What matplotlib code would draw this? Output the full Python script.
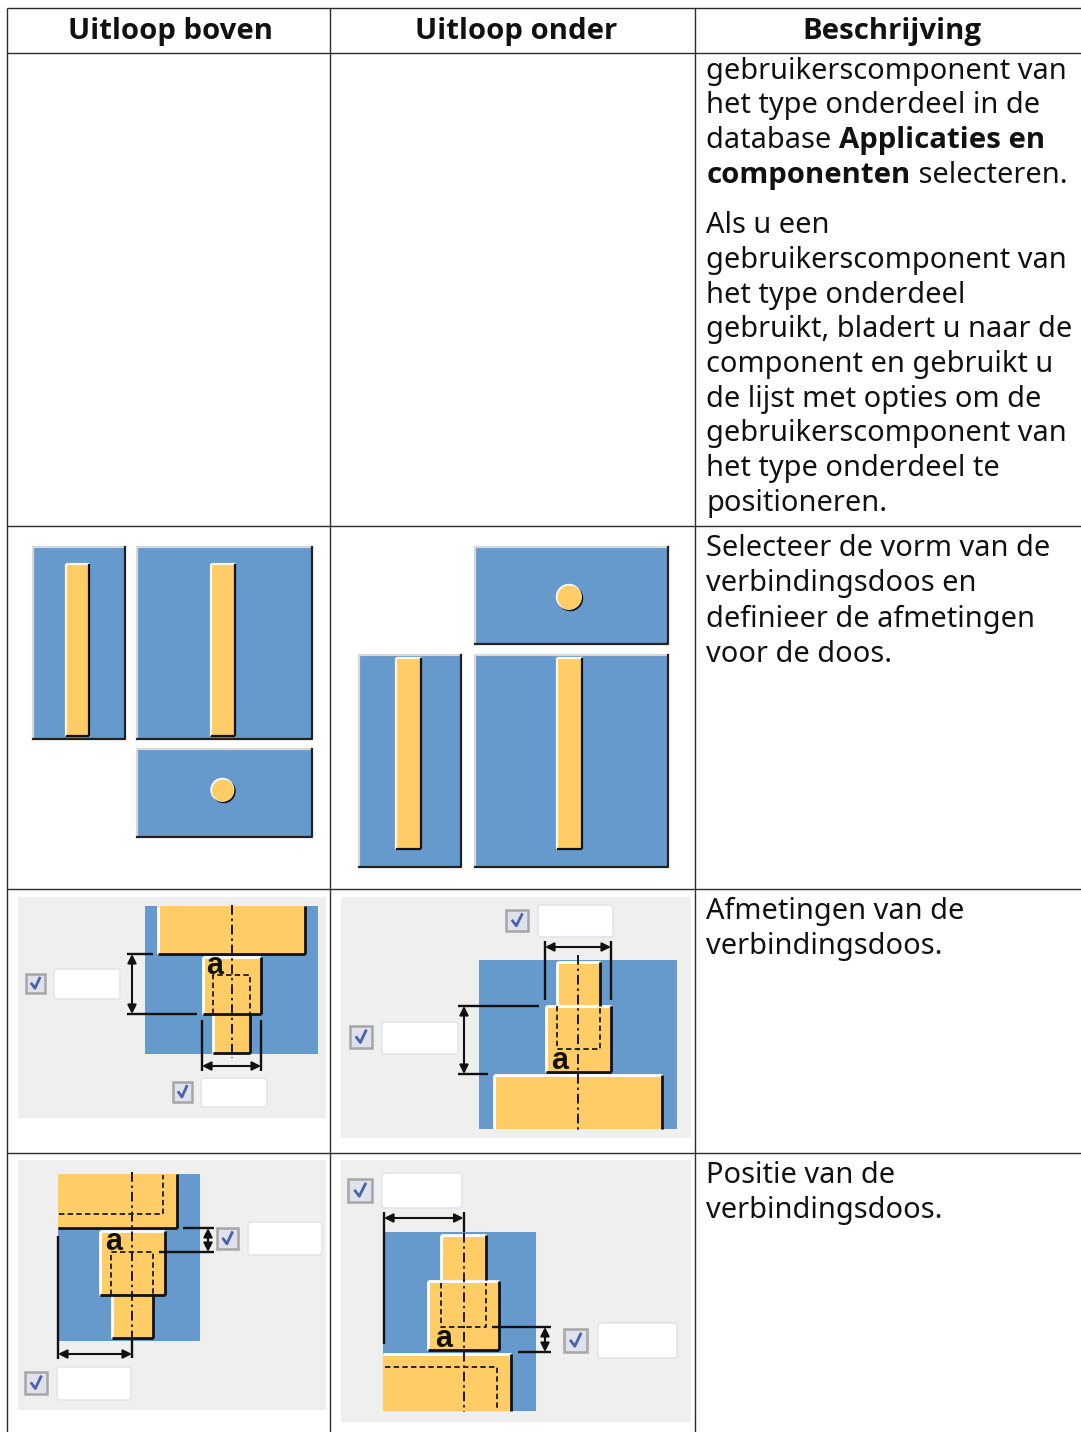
import matplotlib
matplotlib.use("Agg")
import matplotlib.pyplot as plt
from matplotlib.patches import Rectangle, Circle, FancyBboxPatch

# ---------------------table data--------------------------
headers = ["Uitloop boven", "Uitloop onder", "Beschrijving"]
header_x = [171, 516, 892]

# one entry per line: (y, [(text, bold), ...])
desc_lines = [
    (68, [("gebruikerscomponent van", False)]),
    (102.5, [("het type onderdeel in de", False)]),
    (137, [("database ", False), ("Applicaties en", True)]),
    (172, [("componenten", True), (" selecteren.", False)]),
    (222, [("Als u een", False)]),
    (257, [("gebruikerscomponent van", False)]),
    (292, [("het type onderdeel", False)]),
    (326, [("gebruikt, bladert u naar de", False)]),
    (361, [("component en gebruikt u", False)]),
    (396, [("de lijst met opties om de", False)]),
    (430, [("gebruikerscomponent van", False)]),
    (465, [("het type onderdeel te", False)]),
    (500, [("positioneren.", False)]),
    (545.5, [("Selecteer de vorm van de", False)]),
    (580.5, [("verbindingsdoos en", False)]),
    (615.5, [("definieer de afmetingen", False)]),
    (650.5, [("voor de doos.", False)]),
    (908, [("Afmetingen van de", False)]),
    (943, [("verbindingsdoos.", False)]),
    (1172, [("Positie van de", False)]),
    (1207, [("verbindingsdoos.", False)]),
]

col_lines = [7, 330, 695]
row_lines = [8, 53, 525.5, 888.5, 1152.5]

# shape thumbnails of row 2: x0, y0, x1, y1
plates = [(33, 547, 125, 739), (137, 547, 312, 739), (137, 749, 312, 837),
          (475, 547, 668, 644), (359, 655, 461, 867), (475, 655, 668, 867)]
plate_bars = [(66, 564, 89, 736), (211, 564, 235, 736),
              (396, 658, 421, 849), (557, 658, 582, 849)]
plate_holes = [(223, 790.5, 12), (569.5, 597.5, 13)]

# dialogs of rows 3 and 4
panels = [(18, 897, 326, 1118), (341, 897, 691, 1138),
          (18, 1160, 326, 1410), (341, 1160, 691, 1422)]
blues = [(145, 906, 318, 1054), (479, 960, 677, 1129),
         (58, 1174, 200, 1341), (383, 1232, 536, 1411)]
# x0, y0, x1, y1, white edges, black edges
steps = [
    (158, 906, 305, 954, "l", "rb"), (203, 957, 261, 1014, "tl", "rb"), (213, 1014, 250, 1053, "l", "rb"),
    (557, 962, 600, 1006, "tl", "r"), (546, 1006, 611, 1072, "tl", "rb"), (494, 1075, 662, 1129, "tl", "r"),
    (58, 1174, 177, 1228, "", "rb"), (100, 1231, 165, 1295, "tl", "rb"), (112, 1295, 153, 1338, "l", "rb"),
    (441, 1235, 486, 1280, "tl", "r"), (428, 1281, 499, 1350, "tl", "rb"), (383, 1354, 511, 1411, "t", "r"),
]
centers = [(232, 905, 1058), (578, 955, 1130), (132, 1172, 1358), (463.5, 1213, 1412)]
dashed = [
    [(213, 1014), (213, 975), (250, 975), (250, 1014)],
    [(557, 1006), (557, 1049), (600, 1049), (600, 1006)],
    [(59, 1214), (163, 1214), (163, 1175)],
    [(111, 1295), (111, 1252), (153, 1252), (153, 1295)],
    [(441, 1283), (441, 1327), (486, 1327), (486, 1283)],
    [(385, 1367), (497, 1367), (497, 1410)],
]
letter_a = [(215, 966), (559.5, 1061), (114, 1242), (444, 1339)]
# extension lines x0, y0, x1, y1
ext_lines = [
    (127, 954, 153, 954), (127, 1014, 197, 1014), (202, 1020, 202, 1071), (261, 1020, 261, 1071),
    (545, 941, 545, 1000), (611, 941, 611, 1000), (458, 1006, 539, 1006), (458, 1074, 488, 1074),
    (58, 1236, 58, 1359), (132, 1340, 132, 1358), (183, 1228, 214, 1228), (159, 1252, 214, 1252),
    (384, 1212, 384, 1344), (463.5, 1212, 463.5, 1232), (492, 1327, 551, 1327), (518, 1352, 551, 1352),
]
dim_arrows = [
    (132, 954, 132, 1014), (202, 1066, 261, 1066),
    (545, 947, 611, 947), (464, 1006, 464, 1074),
    (58, 1354, 132, 1354), (208, 1228, 208, 1252),
    (384, 1218, 463.5, 1218), (545, 1327, 545, 1352),
]
checks = [(26, 974, 45, 993), (173, 1082, 192, 1102), (506, 910, 528, 931), (350, 1026, 372, 1048),
          (217, 1228, 238, 1249), (25, 1372, 47, 1394), (348, 1179, 372, 1202), (564, 1329, 587, 1352)]
inputs = [(54, 969, 120, 999), (201, 1078, 267, 1107), (538, 905, 613, 937), (382, 1022, 458, 1054),
          (248, 1222, 322, 1255), (57, 1367, 131, 1400), (382, 1173, 462, 1208), (598, 1323, 677, 1358)]

BLUE = "#6699cc"
ORANGE = "#ffcc66"
GRAY = "#efefef"
LINE = "#2b2b2b"
FONT = "Noto Sans"
BOLD_FONT = "Open Sans"
FS = 20.85
FS_BOLD = 21.2


# ---------------------functions--------------------------
def box(x0, y0, x1, y1, color, z=1):
    ax.add_patch(Rectangle((x0, y0), x1 - x0, y1 - y0, fc=color, ec="none", zorder=z))


def bevel(x0, y0, x1, y1, light, dark, z=3, lw=2.0, top="white"):
    box(x0, y0, x1, y1, ORANGE, z)
    if "t" in light:
        ax.plot([x0, x1], [y0, y0], color=top, lw=lw, zorder=z + 0.1, solid_capstyle="butt")
    if "l" in light:
        ax.plot([x0, x0], [y0, y1], color=top, lw=lw, zorder=z + 0.1, solid_capstyle="butt")
    if "b" in dark:
        ax.plot([x0, x1], [y1, y1], color="#111111", lw=lw, zorder=z + 0.2, solid_capstyle="butt")
    if "r" in dark:
        ax.plot([x1, x1], [y0, y1], color="#111111", lw=lw, zorder=z + 0.2, solid_capstyle="butt")


def runs(x, y, parts):
    for txt, bold in parts:
        t = ax.text(x, y, txt, fontsize=FS_BOLD if bold else FS, family=BOLD_FONT if bold else FONT,
                    va="center_baseline", ha="left",
                    fontweight="bold" if bold else "normal", color="#111111", zorder=6)
        x += t.get_window_extent(renderer).width


# ---------------------draw--------------------------
fig = plt.figure(figsize=(10.81, 14.32), dpi=100)
ax = fig.add_axes([0, 0, 1, 1])
ax.set_xlim(0, 1081)
ax.set_ylim(1432, 0)
ax.axis("off")
renderer = fig.canvas.get_renderer()

# row 2 thumbnails
for x0, y0, x1, y1 in plates:
    box(x0, y0, x1, y1, BLUE, 1)
    ax.plot([x0, x0, x1], [y1, y0, y0], color="#d8d8d8", lw=1.6, zorder=2)
    ax.plot([x0, x1, x1], [y1, y1, y0], color="#222222", lw=1.6, zorder=2)
for x0, y0, x1, y1 in plate_bars:
    bevel(x0, y0, x1, y1, "tl", "rb", lw=1.6, top="#fff6e6")
for cx, cy, r in plate_holes:
    ax.add_patch(Circle((cx + 0.7, cy + 0.7), r, fc="#111111", ec="none", zorder=3))
    ax.add_patch(Circle((cx - 0.7, cy - 0.7), r, fc="white", ec="none", zorder=3.1))
    ax.add_patch(Circle((cx, cy), r - 1, fc=ORANGE, ec="none", zorder=3.2))

# rows 3 and 4 dialogs
for x0, y0, x1, y1 in panels:
    box(x0, y0, x1, y1, GRAY, 0.5)
for x0, y0, x1, y1 in blues:
    box(x0, y0, x1, y1, BLUE, 1)
for x0, y0, x1, y1, light, dark in steps:
    bevel(x0, y0, x1, y1, light, dark)
for x, y0, y1 in centers:
    ax.plot([x, x], [y0, y1], color="#1a1a1a", lw=1.4, ls=(0, (5, 2, 1.2, 2)), zorder=4)
for pts in dashed:
    ax.plot([p[0] for p in pts], [p[1] for p in pts], color="#1a1a1a", lw=1.3, ls=(0, (3, 1.8)), zorder=4)
for x, y in letter_a:
    ax.text(x, y, "a", fontsize=22, family="Liberation Sans", fontweight="bold", ha="center", va="center",
            color="#111111", zorder=5)
for x0, y0, x1, y1 in ext_lines:
    ax.plot([x0, x1], [y0, y1], color="#111111", lw=1.7, zorder=4, solid_capstyle="butt")
for x0, y0, x1, y1 in dim_arrows:
    ax.annotate("", xy=(x1, y1), xytext=(x0, y0), zorder=5,
                arrowprops=dict(arrowstyle="<|-|>", color="#111111", lw=1.5, shrinkA=0, shrinkB=0,
                                mutation_scale=13))
for x0, y0, x1, y1 in checks:
    ax.add_patch(Rectangle((x0, y0), x1 - x0, y1 - y0, fc="#dfe2ec", ec="#a6a6a6", lw=1.8, zorder=3))
    w = x1 - x0
    h = y1 - y0
    ax.plot([x0 + 0.3 * w, x0 + 0.47 * w, x0 + 0.72 * w],
            [y0 + 0.52 * h, y0 + 0.75 * h, y0 + 0.22 * h],
            color="#4a62ac", lw=2.0, zorder=4)
for x0, y0, x1, y1 in inputs:
    ax.add_patch(FancyBboxPatch((x0 + 2, y0 + 2), x1 - x0 - 4, y1 - y0 - 4,
                                boxstyle="round,pad=2,rounding_size=3",
                                fc="white", ec="#e3e5ec", lw=1.2, zorder=3))

# table
for x in col_lines:
    ax.plot([x, x], [row_lines[0], 1432], color=LINE, lw=1.0, zorder=7, solid_capstyle="butt")
for y in row_lines:
    ax.plot([col_lines[0], 1081], [y, y], color=LINE, lw=1.0, zorder=7, solid_capstyle="butt")

for txt, x in zip(headers, header_x):
    ax.text(x, 27.5, txt, fontsize=FS_BOLD, family=BOLD_FONT, fontweight="bold", ha="center",
            va="center_baseline", color="#111111", zorder=6)
for y, parts in desc_lines:
    runs(706.5, y, parts)

fig.savefig("out.png", dpi=100)
